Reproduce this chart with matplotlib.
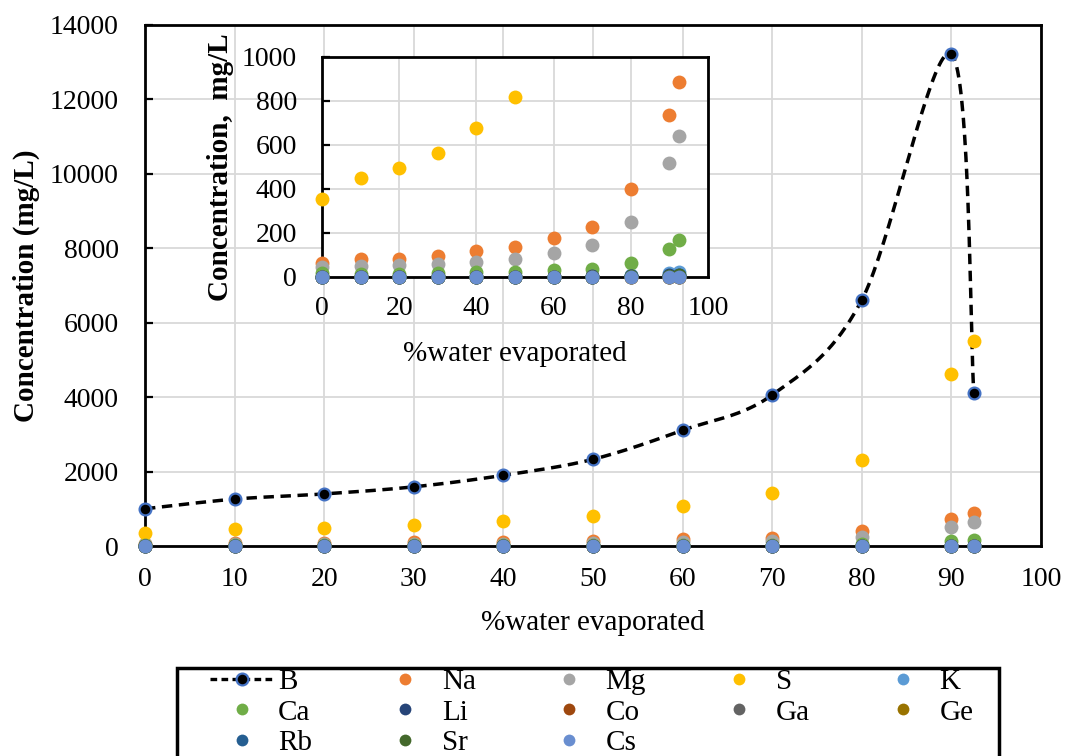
import numpy as np
import matplotlib
matplotlib.use("Agg")
import matplotlib.pyplot as plt
from matplotlib.lines import Line2D
from matplotlib.patches import Rectangle

plt.rcParams['font.family'] = ['Liberation Serif', 'DejaVu Serif']

# ---------------- data ----------------
evap = [0, 10, 20, 30, 40, 50, 60, 70, 80, 90, 92.5]
B  = [1000, 1260, 1400, 1590, 1900, 2330, 3110, 4060, 6610, 13220, 4100]
Na = [64, 80, 84, 95, 117, 138, 179, 227, 400, 738, 888]
Mg = [44, 49, 54, 60, 67, 83, 110, 144, 248, 517, 640]
S  = [356, 448, 497, 563, 678, 819, 1070, 1425, 2310, 4630, 5500]
K  = [2, 2, 3, 3, 3, 4, 5, 6, 9, 17, 22]
Ca = [18, 15, 15, 18, 21, 25, 31, 35, 63, 126, 169]
Li = [1, 1, 1, 1, 1, 2, 2, 3, 4, 8, 10]
Co = [0.01, 0.01, 0.01, 0.01, 0.02, 0.02, 0.03, 0.03, 0.05, 0.1, 0.12]
Ga = [0.02, 0.02, 0.03, 0.03, 0.04, 0.05, 0.06, 0.08, 0.1, 0.2, 0.25]
Ge = [0.01, 0.01, 0.01, 0.02, 0.02, 0.02, 0.03, 0.04, 0.05, 0.1, 0.12]
Rb = [0.5, 0.6, 0.6, 0.7, 0.8, 1.0, 1.2, 1.6, 2.5, 5, 6]
Sr = [1, 1, 1, 1, 1, 1, 2, 2, 3, 6, 8]
Cs = [0.05, 0.05, 0.06, 0.07, 0.08, 0.1, 0.12, 0.15, 0.25, 0.5, 0.6]

series_names = ['Na', 'Mg', 'S', 'K', 'Ca', 'Li', 'Co', 'Ga', 'Ge', 'Rb', 'Sr', 'Cs']
series_vals = [Na, Mg, S, K, Ca, Li, Co, Ga, Ge, Rb, Sr, Cs]
series_colors = ['#ED7D31', '#A5A5A5', '#FFC000', '#5B9BD5', '#70AD47', '#264478',
                 '#9E480E', '#636363', '#997300', '#255E91', '#43682B', '#698ED0']

main_xticks = list(range(0, 101, 10))
main_yticks = list(range(0, 14001, 2000))
inset_xticks = list(range(0, 101, 20))
inset_yticks = list(range(0, 1001, 200))

W, H = 1067, 756
fig = plt.figure(figsize=(W / 100, H / 100), dpi=100)

GRID = '#D9D9D9'
TFS = 20   # tick labels
LFS = 21   # axis titles / legend


def smooth(ax, xs, ys, n=40):
    """Excel-like smoothed curve computed in display space."""
    pts = ax.transData.transform(np.column_stack([xs, ys]))
    P = np.vstack([pts[0], pts, pts[-1]])
    out = []
    for i in range(1, len(P) - 2):
        p0, p1, p2, p3 = P[i - 1], P[i], P[i + 1], P[i + 2]
        c1 = p1 + (p2 - p0) / 6.0
        c2 = p2 - (p3 - p1) / 6.0
        t = np.linspace(0, 1, n)[:, None]
        seg = ((1 - t) ** 3) * p1 + 3 * ((1 - t) ** 2) * t * c1 + 3 * (1 - t) * t ** 2 * c2 + t ** 3 * p2
        out.append(seg if i == 1 else seg[1:])
    out = np.vstack(out)
    return ax.transData.inverted().transform(out)


def style_axes(ax, xticks, yticks, xlim, ylim, ypad, xpad):
    ax.set_xlim(*xlim)
    ax.set_ylim(*ylim)
    ax.set_xticks(xticks)
    ax.set_yticks(yticks)
    ax.grid(True, color=GRID, linewidth=1.3)
    ax.set_axisbelow(True)
    for s in ax.spines.values():
        s.set_color('black')
        s.set_linewidth(2.0)
    ax.tick_params(axis='y', direction='in', length=6, width=1.6, pad=ypad, labelsize=TFS)
    ax.tick_params(axis='x', length=0, pad=xpad, labelsize=TFS)


# ---------------- main axes ----------------
ax = fig.add_axes([145 / W, 1 - 546 / H, (1041 - 145) / W, (546 - 25) / H])
style_axes(ax, main_xticks, main_yticks, (0, 100), (0, 14000), ypad=19, xpad=15)
ax.set_xlabel('%water evaporated', fontsize=LFS, labelpad=13)
ax.set_ylabel('Concentration (mg/L)', fontsize=LFS, fontweight='bold', labelpad=7)

curve = smooth(ax, evap, B)
ax.plot(curve[:, 0], curve[:, 1], color='black', linewidth=2.5, linestyle=(0, (3.0, 1.9)),
        zorder=3, clip_on=False)
ax.plot(evap, B, linestyle='none', marker='o', markersize=8.5, markerfacecolor='black',
        markeredgecolor='#4472C4', markeredgewidth=1.6, zorder=4, clip_on=False)

for name, vals, col in zip(series_names, series_vals, series_colors):
    ax.plot(evap, vals, linestyle='none', marker='o', markersize=10, color=col,
            markeredgewidth=0, zorder=5, clip_on=False)

# ---------------- inset ----------------
ins = fig.add_axes([322 / W, 1 - 277 / H, (708 - 322) / W, (277 - 57) / H])
ins.set_facecolor('white')
ins.set_zorder(10)
style_axes(ins, inset_xticks, inset_yticks, (0, 100), (0, 1000), ypad=18, xpad=14)
ins.set_xlabel('%water evaporated', fontsize=LFS, labelpad=14)
ins.set_ylabel('Concentration,  mg/L', fontsize=LFS, fontweight='bold', labelpad=6)
for name, vals, col in zip(series_names, series_vals, series_colors):
    shown = np.ma.masked_greater(np.array(vals, dtype=float), 1000)
    ins.plot(evap, shown, linestyle='none', marker='o', markersize=10, color=col,
             markeredgewidth=0, zorder=5, clip_on=False)

# ---------------- legend ----------------
handles = {'B': Line2D([], [], color='black', linewidth=2.4, linestyle=(0, (2.0, 1.3)), marker='o',
                       markersize=8.5, markerfacecolor='black', markeredgecolor='#4472C4',
                       markeredgewidth=1.6)}
for name, col in zip(series_names, series_colors):
    handles[name] = Line2D([], [], linestyle='none', marker='o', markersize=8.5, color=col,
                           markeredgewidth=0)
order = ['B', 'Ca', 'Rb', 'Na', 'Li', 'Sr', 'Mg', 'Co', 'Cs', 'S', 'Ga', 'K', 'Ge']
leg = fig.legend([handles[k] for k in order], order, ncol=5, loc='upper left',
                 bbox_to_anchor=(210 / W, 1 - 669 / H), fontsize=LFS, frameon=False,
                 handlelength=2.16, handletextpad=0.17, columnspacing=2.12,
                 labelspacing=0.13, borderpad=0.0, borderaxespad=0)
frame = Rectangle((177 / W, -0.05), (999 - 177) / W, (1 - 668 / H) + 0.05,
                  transform=fig.transFigure, fill=False, edgecolor='black', linewidth=2.5)
fig.patches.append(frame)

fig.savefig('out.png', dpi=100)
